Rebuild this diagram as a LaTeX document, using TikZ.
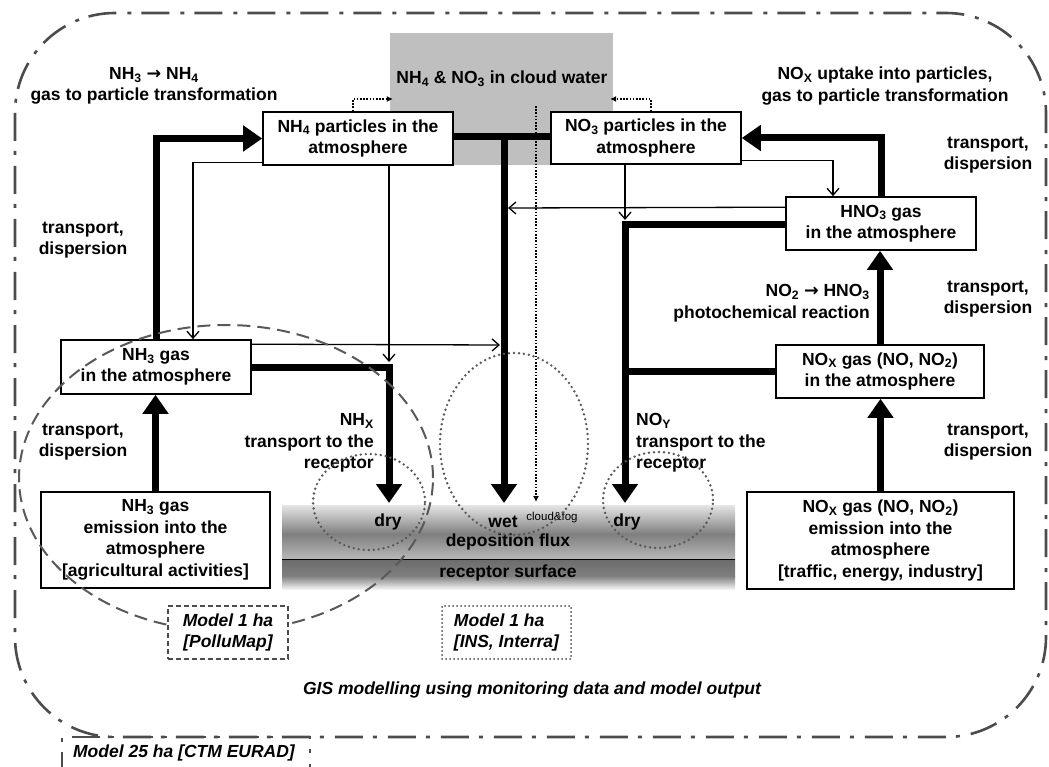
\documentclass[tikz,border=0pt]{standalone}
\usepackage{fontspec}
\setmainfont{Liberation Sans}
\newfontfamily\arrowfont{DejaVu Sans}
\usepackage{tikz}
\usetikzlibrary{arrows.meta}
\tikzset{
    every node/.style={font=\bfseries\fontsize{17.5}{21.5}\selectfont,
    	align=center, inner sep=0pt}
}
\tikzset{
    box/.style={draw, fill=white, line width=1.6pt},
    modeltext/.style={font=\bfseries\itshape\fontsize{17.5}{21.5}\selectfont},
    thickline/.style={line width=7pt},
    thickflow/.style={line width=7pt, -{Triangle[length=19pt,width=25pt]}},
    thinflow/.style={line width=1.3pt, -{Straight Barb[length=7pt,width=12pt]}},
    dotflow/.style={line width=1.3pt, dash pattern=on 1.6pt off 1.6pt,
    	-{Latex[length=6pt,width=6pt]}}
}
\tikzset{
    ring/.style={black!65, line width=2.7pt, dash pattern=on 0pt off 5pt, line cap=round},
    area/.style={black!65, line width=2pt, dash pattern=on 13pt off 7pt},
    frame/.style={black!70, line width=2.6pt, dash pattern=on 28pt off 10pt on 4pt off 11pt}
}
\newcommand{\chem}[1]{\textsubscript{#1}}
\newcommand{\yields}{{\arrowfont →}}

\begin{document}
\begin{tikzpicture}[x=1pt, y=-1pt]
  \useasboundingbox (0,0) rectangle (1049,767);

  % outer frame
  \draw[frame, rounded corners=100pt] (15,13) rectangle (1046,737);
  \draw[frame] (62,780) -- (62,737) -- (310,737) -- (310,780);
  \node (ctm) [modeltext] at (184,753) {Model 25 ha [CTM EURAD]};

  % cloud and deposition layer
  \node (cloud) [fill=black!25, minimum width=223pt, minimum height=132pt] at (501.5,99) {};
  \node (cloudtxt) at (502,79) {NH\chem{4} \& NO\chem{3} in cloud water};
  \shade[top color=black!10, bottom color=black!50] (282,505) rectangle (735,534);
  \shade[top color=black!50, bottom color=black!28] (282,534) rectangle (735,559);
  \shade[top color=black!58, bottom color=black!50] (282,559) rectangle (735,576);
  \shade[top color=black!50, bottom color=black!5] (282,576) rectangle (735,589);
  \draw[line width=1pt] (282,559) -- (735,559);
  \node (drynh) at (388,522) {dry};
  \node (wet) at (503,522) {wet};
  \node (fog) [font=\fontsize{11.5}{13}\selectfont] at (552,518) {cloud\&fog};
  \node (dryno) at (627,522) {dry};
  \node (flux) at (508,542) {deposition flux};
  \node (surface) at (508,573) {receptor surface};

  % boxes
  \node (nh4) [box, minimum width=190pt, minimum height=53pt] at (358,138.5) {NH\chem{4} particles in the\\atmosphere};
  \node (no3) [box, minimum width=190pt, minimum height=52pt] at (646,138) {NO\chem{3} particles in the\\atmosphere};
  \node (hno3) [box, minimum width=190pt, minimum height=53pt] at (881,223.5) {HNO\chem{3} gas\\in the atmosphere};
  \node (nh3) [box, minimum width=190pt, minimum height=54pt] at (156,367) {NH\chem{3} gas\\in the atmosphere};
  \node (nox) [box, minimum width=208pt, minimum height=53pt] at (880,371.5) {NO\chem{X} gas (NO, NO\chem{2})\\in the atmosphere};
  \node (nh3em) [box, minimum width=229pt, minimum height=96pt] at (155.5,540) {NH\chem{3} gas\\emission into the\\atmosphere\\{[agricultural activities]}};
  \node (noxem) [box, minimum width=267pt, minimum height=97pt] at (880.5,540.5) {NO\chem{X} gas (NO, NO\chem{2})\\emission into the\\atmosphere\\{[traffic, energy, industry]}};

  % labels
  \node (nhtrans) at (154,86) {NH\chem{3} \yields{} NH\chem{4}\\gas to particle transformation};
  \node (noxtrans) at (885,86) {NO\chem{X} uptake into particles,\\gas to particle transformation};
  \node (tdright1) at (988,155) {transport,\\dispersion};
  \node (tdleft1) at (83,240) {transport,\\dispersion};
  \node (tdleft2) at (83,442) {transport,\\dispersion};
  \node (tdright2) at (988,299) {transport,\\dispersion};
  \node (tdright3) at (988,442) {transport,\\dispersion};
  \node (photo) [anchor=east, align=right] at (870,303) {NO\chem{2} \yields{} HNO\chem{3}\\photochemical reaction};
  \node (nhx) [anchor=east, align=right] at (374,443) {NH\chem{X}\\transport to the\\receptor};
  \node (noy) [anchor=west, align=left] at (636,443) {NO\chem{Y}\\transport to the\\receptor};

  \coordinate (wetjoin) at (504,137);
  \coordinate (wetend) at (504,503);
  \coordinate (nhxbend) at (389,367);
  \coordinate (nhxend) at (389,503);
  \coordinate (noybend) at (625,225);
  \coordinate (noyend) at (625,503);
  \coordinate (fogtop) at (536,106);
  \coordinate (fogend) at (536,502);
  \coordinate (nhgasend) at (500,345);
  \coordinate (hnoend) at (508,208);

  \draw[thickflow] (nh3em.north) -- (nh3em.north |- nh3.south);
  \draw[thickflow] (nh3.north) |- (nh4.west);
  \draw[thinflow] ([yshift=3pt]nh4.south west) -| ([xshift=37pt]nh3.north);
  \draw[thickline] (nh4.east |- wetjoin) -- (no3.west |- wetjoin);
  \draw[thickflow] (wetjoin) -- (wetend);
  \draw[thickflow] (nh3.east |- nhxbend) -- (nhxbend) -- (nhxend);
  \draw[thinflow] (nh4.south -| nhxbend) -- ([yshift=5pt]nhxbend);
  \draw[thinflow] ([yshift=-5pt]nh3.north east) -- (nhgasend);
  \draw[thickflow] (noxem.north) -- (noxem.north |- nox.south);
  \draw[thickflow] (nox.north) -- (nox.north |- hno3.south);
  \draw[thickflow] (hno3.north) |- (no3.east);
  \draw[thinflow] ([yshift=4pt]no3.south east) -| ([xshift=-48pt]hno3.north);
  \draw[thinflow] ([yshift=-11pt]hno3.north west) -- (hnoend);
  \draw[thickflow] (hno3.west |- noybend) -- (noybend) -- (noyend);
  \draw[thickline] (nox.west) -- (nox.west -| noybend);
  \draw[thinflow] (no3.south -| noybend) -- ([yshift=5pt]noybend);
  \draw[dotflow] ([xshift=-5pt]nh4.north) |- ([xshift=3pt]cloud.west);
  \draw[dotflow] ([xshift=5pt]no3.north) |- ([xshift=-3pt]cloud.east);
  \draw[dotflow] (fogtop) -- (fogend);

  % model areas
  \draw[ring] (514,444) ellipse [x radius=74pt, y radius=91pt];
  \draw[ring] (369,502) ellipse [x radius=56pt, y radius=48pt];
  \draw[ring] (658,500) ellipse [x radius=55pt, y radius=48pt];
  \draw[area] (226,478) ellipse [x radius=207pt, y radius=153pt];
  \node (pollumap) [modeltext, draw=black!70, fill=white, line width=2pt, dash pattern=on 5pt off 3pt,
  	minimum width=120pt, minimum height=53pt] at (228,632.5) {Model 1 ha\\{[PolluMap]}};
  \node (interra) [modeltext, draw=black!70, fill=white, line width=2pt, dash pattern=on 0pt off 4pt, line cap=round,
  	minimum width=129pt, minimum height=53pt, align=left] at (506.5,632.5) {Model 1 ha\\{[INS, Interra]}};
  \node (gis) [modeltext] at (532,690) {GIS modelling using monitoring data and model output};
\end{tikzpicture}
\end{document}
